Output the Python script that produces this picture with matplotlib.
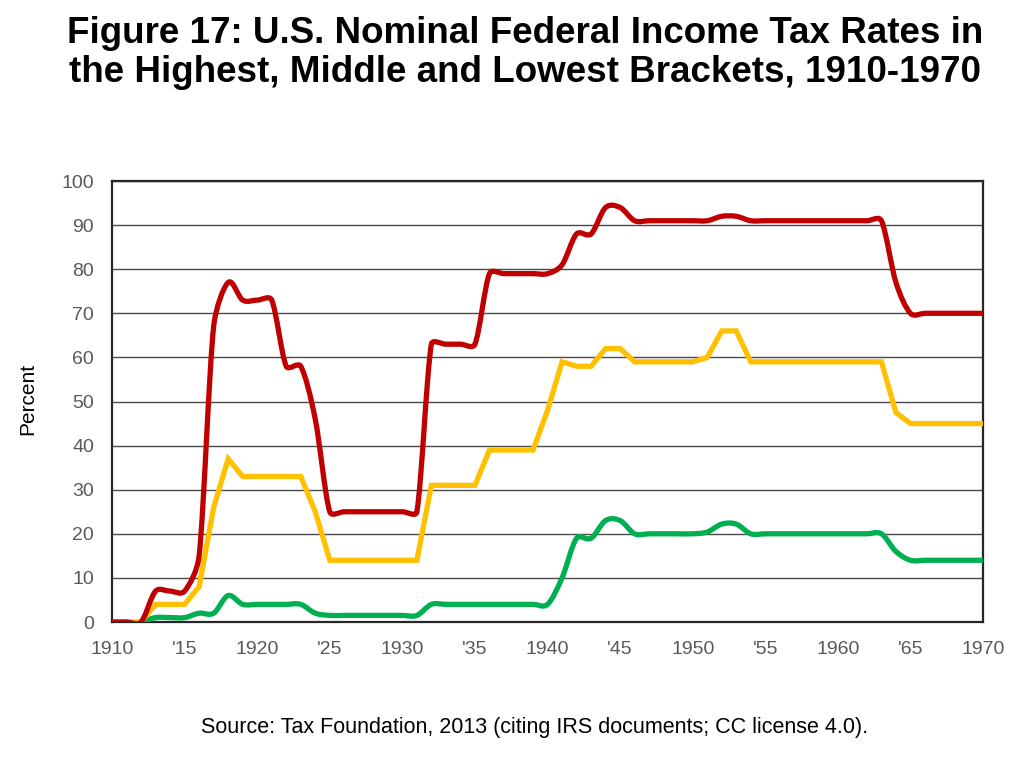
import numpy as np
import matplotlib
matplotlib.use("Agg")
import matplotlib.pyplot as plt
from matplotlib.path import Path
from matplotlib.patches import PathPatch

plt.rcParams["font.family"] = ["Liberation Sans", "DejaVu Sans"]

years = list(range(1910, 1971))

# highest bracket (%)
highest = ([0, 0, 0, 7, 7, 7, 15, 67, 77, 73, 73, 73, 58, 58, 46]
           + [25] * 7 + [63] * 4 + [79] * 5 + [81, 88, 88, 94, 94]
           + [91] * 6 + [92, 92] + [91] * 10 + [77] + [70] * 6)

# middle bracket (%)
middle = ([0, 0, 0, 4, 4, 4, 8, 26, 37] + [33] * 5 + [25]
          + [14] * 7 + [31] * 4 + [39] * 4 + [48, 59, 58, 58, 62, 62]
          + [59] * 5 + [60, 66, 66] + [59] * 10 + [47.5] + [45] * 6)

# lowest bracket (%), no value before 1912
lowest = ([np.nan, np.nan, 0, 1, 1, 1, 2, 2, 6] + [4] * 5 + [2]
          + [1.5] * 7 + [4] * 9 + [10, 19, 19, 23, 23]
          + [20] * 5 + [20.4, 22.2, 22.2] + [20] * 10 + [16] + [14] * 6)

tick_years = list(range(1910, 1971, 5))
tick_labels = ["1910", "'15", "1920", "'25", "1930", "'35", "1940",
               "'45", "1950", "'55", "1960", "'65", "1970"]


def smooth_path(ax, xs, ys, k=0.4):
    # excel style smoothed line: bezier, catmull-rom tangents (pixel space)
    # with the control arms capped by the length of their own segment
    x0, x1 = ax.get_xlim()
    y0, y1 = ax.get_ylim()
    sx = ax.bbox.width / (x1 - x0)
    sy = ax.bbox.height / (y1 - y0)
    pts = [((x - x0) * sx, (y - y0) * sy) for x, y in zip(xs, ys)
           if not np.isnan(y)]
    p = np.array(pts, dtype=float)
    n = len(p)
    tang = []
    for i in range(n):
        d = p[min(i + 1, n - 1)] - p[max(i - 1, 0)]
        tang.append(d / 6.0)
    verts = [p[0]]
    codes = [Path.MOVETO]
    for i in range(n - 1):
        L = np.hypot(*(p[i + 1] - p[i]))
        a = tang[i]
        b = tang[i + 1]
        la, lb = np.hypot(*a), np.hypot(*b)
        if la > k * L:
            a = a * k * L / la
        if lb > k * L:
            b = b * k * L / lb
        verts += [p[i] + a, p[i + 1] - b, p[i + 1]]
        codes += [Path.CURVE4] * 3
    v = np.array(verts)
    v[:, 0] = v[:, 0] / sx + x0
    v[:, 1] = v[:, 1] / sy + y0
    return Path(v, codes)


fig = plt.figure(figsize=(10.24, 7.72), dpi=100)
ax = fig.add_axes([0.1094, 0.1943, 0.8506, 0.5712])
ax.set_xlim(1910, 1970)
ax.set_ylim(0, 100)

lw = 3.8
ax.add_patch(PathPatch(smooth_path(ax, years, lowest), fill=False,
                       edgecolor="#00B050", lw=lw, capstyle="butt",
                       joinstyle="round", zorder=3))
ax.plot(years, middle, color="#FFC000", lw=lw, solid_joinstyle="miter",
        solid_capstyle="butt", zorder=4)
ax.add_patch(PathPatch(smooth_path(ax, years, highest), fill=False,
                       edgecolor="#C00000", lw=lw, capstyle="butt",
                       joinstyle="round", zorder=5))

ax.set_yticks(range(0, 101, 10))
ax.set_xticks(tick_years)
ax.set_xticklabels(tick_labels)
ax.yaxis.grid(True, color="#4a4a4a", lw=1.0)
ax.set_axisbelow(True)
for s in ax.spines.values():
    s.set_color("#262626")
    s.set_linewidth(1.6)
ax.tick_params(axis="y", length=0, labelsize=14, colors="#595959", pad=13)
ax.tick_params(axis="x", length=0, labelsize=14, colors="#595959", pad=14)

fig.text(27.5 / 1024, 1 - 399 / 772, "Percent", rotation=90,
         ha="center", va="center", fontsize=15)

fig.text(0.513, 0.931, "Figure 17: U.S. Nominal Federal Income Tax Rates in\n"
         "the Highest, Middle and Lowest Brackets, 1910-1970",
         ha="center", va="center", fontsize=26.5, fontweight="bold",
         linespacing=1.16)
fig.text(0.5225, 0.058,
         "Source: Tax Foundation, 2013 (citing IRS documents; CC license 4.0).",
         ha="center", va="center", fontsize=15.5)

fig.savefig("out.png", dpi=100)
